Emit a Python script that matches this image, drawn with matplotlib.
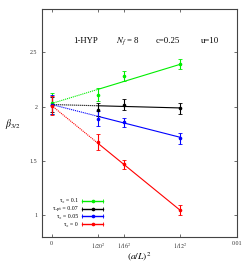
import numpy as np
import matplotlib
matplotlib.use("Agg")
import matplotlib.pyplot as plt
from matplotlib.lines import Line2D

plt.rcParams['font.family'] = ['Liberation Serif', 'DejaVu Serif', 'DejaVu Sans']
plt.rcParams['mathtext.fontset'] = 'stix'

# data
x_lat = [1/20**2, 1/16**2, 1/12**2]
labels = ["τ\u2080 = 0.1", "τ\u2092\u209a\u209c = 0.07", "τ\u2080 = 0.05", "τ\u2080 = 0"]
colors = ["#00ee00", "#000000", "#0000ff", "#ff0000"]
y_green = [2.11, 2.28, 2.395]
e_green = [0.06, 0.045, 0.045]
y_black = [1.97, 2.018, 1.985]
e_black = [0.06, 0.05, 0.05]
y_blue = [1.89, 1.855, 1.71]
e_blue = [0.07, 0.04, 0.05]
y_red = [1.673, 1.469, 1.046]
e_red = [0.075, 0.04, 0.045]
# continuum extrapolations (value, error) and fit slopes
cont_val = [2.03, 2.02, 2.02, 2.01]
cont_err = [0.10, 0.07, 0.09, 0.085]
slopes = [52.0, -4.5, -43.5, -139.0]

ys = [y_green, y_black, y_blue, y_red]
es = [e_green, e_black, e_blue, e_red]

xticks = [0, 1/20**2, 1/16**2, 1/12**2, 0.01]
xticklabels = ["0", r"$1/20^2$", r"$1/16^2$", r"$1/12^2$", "0.01"]
yticks = [1, 1.5, 2, 2.5]
yticklabels = ["1", "1.5", "2", "2.5"]

W, H = 249, 262
fig = plt.figure(figsize=(W/100, H/100), dpi=100)
ax = fig.add_axes([41.7/W, 1-237/H, (237-41.7)/W, (237-9)/H])

for i in range(4):
    c = colors[i]
    a, b = cont_val[i], slopes[i]
    xd = np.array([0, x_lat[0]])
    xs = np.array([x_lat[0], x_lat[-1]])
    ax.plot(xd, a + b*xd, ls=(0, (1, 0.8)), color=c, lw=0.8, zorder=2)
    ax.plot(xs, a + b*xs, ls='-', color=c, lw=0.8, zorder=2)
    ax.errorbar(x_lat, ys[i], yerr=es[i], fmt='o', ms=1.6, color=c,
                ecolor=c, elinewidth=0.8, capsize=1.2, capthick=0.6, zorder=3)
    ax.errorbar([0], [cont_val[i]], yerr=[cont_err[i]], fmt='o', ms=1.6, color=c,
                ecolor=c, elinewidth=0.8, capsize=1.2, capthick=0.6, zorder=3)

ax.set_xlim(-0.00054, 0.01)
ax.set_ylim(0.8, 2.9)
ax.set_xticks(xticks)
ax.set_xticklabels(xticklabels, fontsize=4.3)
ax.set_yticks(yticks)
ax.set_yticklabels(yticklabels, fontsize=4.3)
ax.tick_params(direction='in', length=2.5, width=0.5, top=True, right=True, pad=3, colors='#333333')
for s in ax.spines.values():
    s.set_linewidth(0.8)
    s.set_color('#444444')

fig.text(139.5/W, 1-257/H, r"$(a/L)^2$", fontsize=6.8, ha='center', va='center')
fig.text(13/W, 1-124/H, r"$\beta_{3/2}$", fontsize=7, ha='center', va='center')

ty = 1-41/H
fig.text(85.5/W, ty, "1-HYP", fontsize=6.3, ha='center', va='center')
fig.text(127.5/W, ty, r"$N_f$ = 8", fontsize=6.3, ha='center', va='center')
fig.text(168/W, ty, "c=0.25", fontsize=6.3, ha='center', va='center')
fig.text(210/W, ty, "u=10", fontsize=6.3, ha='center', va='center')

# legend (gnuplot style: text right-aligned, sample with horizontal error bar)
x0, x1 = 82/W, 103/W
for i in range(4):
    yy = 1 - (200.7 + 7.85*i)/H
    c = colors[i]
    fig.text(78/W, yy, labels[i], fontsize=4.2, ha='right', va='center')
    fig.add_artist(Line2D([x0, x1], [yy, yy], color=c, lw=1.0, transform=fig.transFigure))
    fig.add_artist(Line2D([x0, x1], [yy, yy], color=c, lw=0, marker='|', ms=2.5, mew=0.6,
                          transform=fig.transFigure))
    fig.add_artist(Line2D([(x0+x1)/2], [yy], color=c, lw=0, marker='o', ms=1.6,
                          transform=fig.transFigure))

fig.savefig("out.png", dpi=100)
